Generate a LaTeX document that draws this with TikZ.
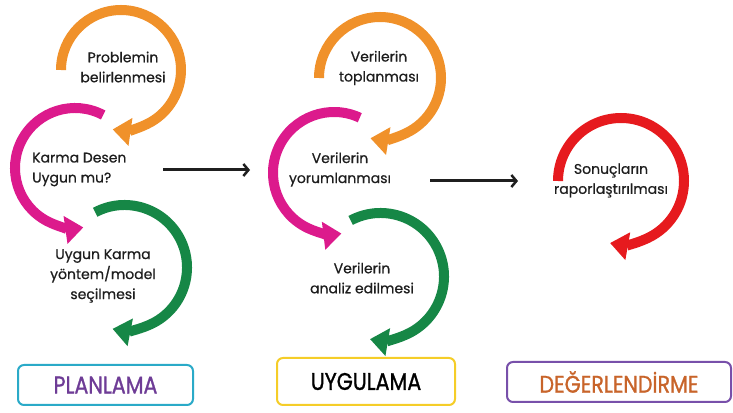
\documentclass[tikz,border=0pt]{standalone}
\usepackage{fontspec}
\usepackage{graphicx}
\setmainfont{Poppins}
\newfontfamily\lblfont{Poppins}[FakeBold=0.7]
\newfontfamily\phfont{Poppins}[FakeBold=1.2]
\usetikzlibrary{arrows.meta}
\definecolor{corange}{HTML}{F0912A}
\definecolor{cmagenta}{HTML}{DC1A8C}
\definecolor{cgreen}{HTML}{168746}
\definecolor{cred}{HTML}{E61A1E}
\definecolor{cteal}{HTML}{2AAAC8}
\definecolor{cyellow}{HTML}{F5CD28}
\definecolor{cpurple}{HTML}{7850AA}
\definecolor{tpurple}{HTML}{6E3C96}
\definecolor{tbrown}{HTML}{C8642A}
\definecolor{ttext}{HTML}{1E1E1E}
\tikzset{
  cyc/.style={line width=10pt,-{Triangle[width=27pt,length=18pt]}},
  lbl/.style={font=\lblfont\fontsize{14}{20}\selectfont,text=ttext,align=center,inner sep=0pt},
  flow/.style={line width=3pt,draw=black!88,-{Straight Barb[length=5pt,width=12pt,line width=2.5pt]}},
  phase/.style={draw,rounded corners=6pt,line width=2pt,font=\phfont\fontsize{24}{26}\selectfont,inner sep=0pt},
}
\newcommand{\cond}[1]{\scalebox{0.86}[1]{#1}}
\begin{document}
\begin{tikzpicture}[x=1pt,y=1pt]
\useasboundingbox (0,0) rectangle (733,412);
% centers
\coordinate (c1) at (121,342);
\coordinate (c2) at (75,244);
\coordinate (c3) at (124.5,144.5);
\coordinate (c4) at (380,334);
\coordinate (c5) at (334,239);
\coordinate (c6) at (380.5,135.5);
\coordinate (c7) at (621,231);
% arcs
\draw[cyc,corange] (c1) ++(180:60) arc[start angle=180,end angle=-98,radius=60];
\draw[cyc,cmagenta] (c2) ++(62:60) arc[start angle=62,end angle=278,radius=60];
\draw[cyc,cgreen] (c3) ++(118:62.5) arc[start angle=118,end angle=-101,radius=62.5];
\draw[cyc,corange] (c4) ++(180:61) arc[start angle=180,end angle=-99,radius=61];
\draw[cyc,cmagenta] (c5) ++(65:61) arc[start angle=65,end angle=277,radius=61];
\draw[cyc,cgreen] (c6) ++(118:63.5) arc[start angle=118,end angle=-99.5,radius=63.5];
\draw[cyc,cred] (c7) ++(180:63) arc[start angle=180,end angle=-100,radius=63];
% texts
\node[lbl] (t1) at (123,345) {Problemin\\belirlenmesi};
\node[lbl,align=left,anchor=west] (t2) at (32,242.5) {Karma Desen\\Uygun mu?};
\node[lbl] (t3) at (103,136) {Uygun Karma\\yöntem/model\\seçilmesi};
\node[lbl] (t4) at (379,344) {Verilerin\\toplanması};
\node[lbl] (t5) at (340,242.5) {Verilerin\\yorumlanması};
\node[lbl] (t6) at (362,134) {Verilerin\\analiz edilmesi};
\node[lbl] (t7) at (611,231.5) {Sonuçların\\raporlaştırılması};
% flow arrows
\coordinate (a1s) at (163,242);
\coordinate (a1e) at (250,242);
\coordinate (a2s) at (430,231);
\coordinate (a2e) at (518,231);
\draw[flow] (a1s) -- (a1e);
\draw[flow] (a2s) -- (a2e);
% phases
\node[phase,draw=cteal,text=tpurple,minimum width=175pt,minimum height=40pt] (p1) at (105.5,27) {\cond{PLANLAMA}};
\node[phase,draw=cyellow,text=black,minimum width=178pt,minimum height=47pt] (p2) at (366,30.5) {\cond{UYGULAMA}};
\node[phase,draw=cpurple,text=tbrown,minimum width=224pt,minimum height=40pt] (p3) at (619,30) {\cond{DEĞERLENDİRME}};
\end{tikzpicture}
\end{document}
